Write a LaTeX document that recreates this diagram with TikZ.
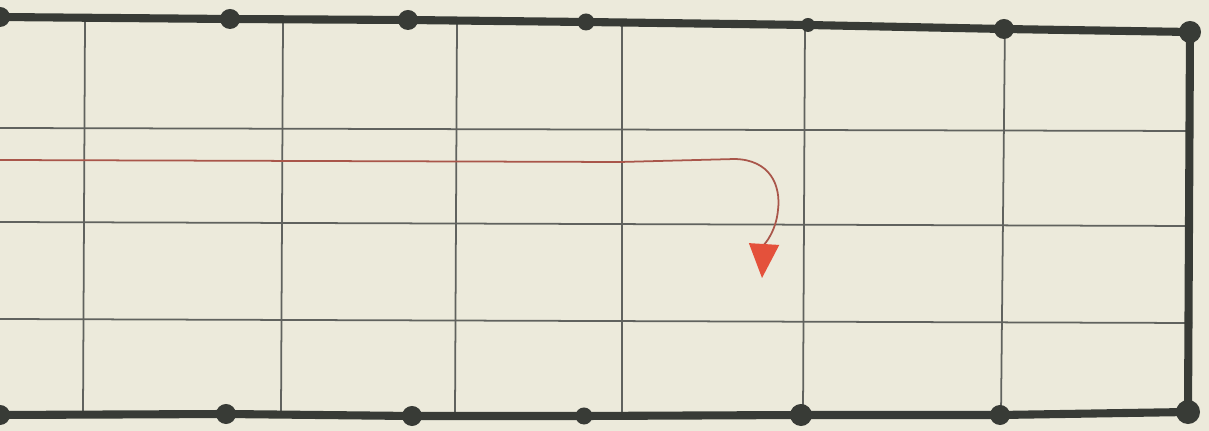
\documentclass[tikz,border=0pt]{standalone}
\usepackage{tikz}
\usetikzlibrary{arrows.meta}

\definecolor{paper}{HTML}{ECEADB}
\definecolor{ink}{HTML}{383B36}
\definecolor{pencil}{HTML}{A9564A}
\definecolor{tipred}{HTML}{E4513B}

\tikzset{
  dot/.style={circle, fill=ink, inner sep=0pt, minimum size=0.2cm},
  rim/.style={ink, line width=2.3pt, line join=round},
  rule/.style={ink!80, line width=0.5pt},
  path/.style={pencil, line width=0.5pt},
}

\begin{document}
\begin{tikzpicture}[x=0.01cm, y=-0.01cm]
  \fill[paper] (0,0) rectangle (1209,431);
  \useasboundingbox (0,0) rectangle (1209,431);

  % grid
  \foreach \xa/\xb in {85/83, 283/281, 457/455, 622/622, 805/803, 1005/1001}
    \draw[rule] (\xa,22) -- (\xb,414);
  \foreach \ya/\yb in {128/131, 222/226, 319/323}
    \draw[rule] (0,\ya) -- (1192,\yb);

  % dots on the frame
  \node[dot] (t0) at (0,17)    {};
  \node[dot] (t1) at (230,19)  {};
  \node[dot] (t2) at (408,20)  {};
  \node[dot, minimum size=0.17cm] (t3) at (586,22) {};
  \node[dot, minimum size=0.14cm] (t4) at (808,25) {};
  \node[dot] (t5) at (1004,29) {};
  \node[dot, minimum size=0.22cm] (t6) at (1190,32) {};

  \node[dot] (b0) at (0,415)   {};
  \node[dot] (b1) at (226,414) {};
  \node[dot] (b2) at (412,416) {};
  \node[dot, minimum size=0.17cm] (b3) at (584,416) {};
  \node[dot, minimum size=0.22cm] (b4) at (801,415) {};
  \node[dot] (b5) at (1000,415) {};
  \node[dot, minimum size=0.24cm] (b6) at (1188,412) {};

  % frame
  \draw[rim] (t0.center) -- (t1.center) -- (t2.center) -- (t3.center)
    -- (t4.center) -- (t5.center) -- (t6.center) -- (b6.center)
    -- (b5.center) -- (b4.center) -- (b3.center) -- (b2.center)
    -- (b1.center) -- (b0.center);

  % red route
  \coordinate (start) at (0,160);
  \coordinate (bend) at (735,159);
  \coordinate (stop) at (762,278);
  \draw[path, -{Triangle[length=0.34cm, width=0.3cm, fill=tipred, color=tipred]}]
    (start) -- (620,162) -- (bend)
    .. controls (770,160) and (781,185) .. (778,210)
    .. controls (776,232) and (764,245) .. (stop);
\end{tikzpicture}
\end{document}
